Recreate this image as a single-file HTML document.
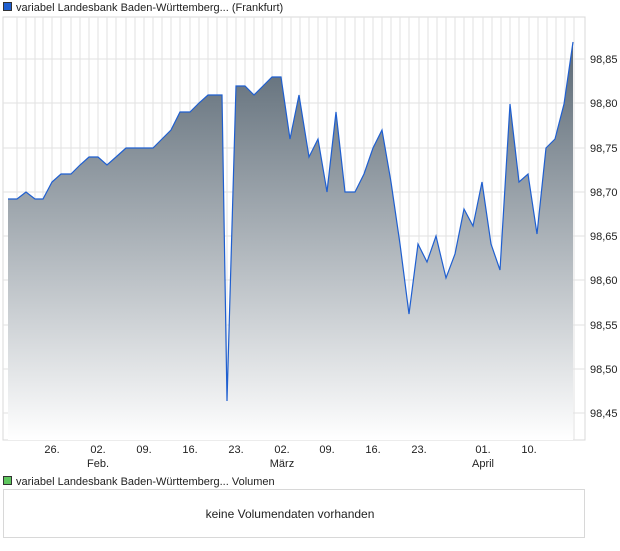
<!DOCTYPE html>
<html><head><meta charset="utf-8"><style>
body{margin:0;background:#fff;font-family:"Liberation Sans",sans-serif;}
</style></head><body>
<svg width="620" height="546" xmlns="http://www.w3.org/2000/svg" font-family="Liberation Sans, sans-serif" font-size="11">
<defs><linearGradient id="g" x1="0" y1="0" x2="0" y2="1"><stop offset="0" stop-color="#5a6874"/><stop offset="1" stop-color="#ffffff"/></linearGradient></defs>
<rect x="3" y="17" width="582" height="423" fill="#fff" stroke="#d8d8d8"/>
<g stroke="#e2e2e2" stroke-width="1">
<path d="M17 17V440M26 17V440M35 17V440M43 17V440M52 17V440M61 17V440M71 17V440M80 17V440M89 17V440M98 17V440M107 17V440M116 17V440M126 17V440M135 17V440M144 17V440M153 17V440M162 17V440M171 17V440M180 17V440M190 17V440M199 17V440M208 17V440M217 17V440M227 17V440M236 17V440M245 17V440M254 17V440M263 17V440M272 17V440M282 17V440M291 17V440M300 17V440M309 17V440M318 17V440M327 17V440M336 17V440M345 17V440M355 17V440M364 17V440M373 17V440M382 17V440M391 17V440M400 17V440M409 17V440M419 17V440M428 17V440M437 17V440M446 17V440M455 17V440M464 17V440M473 17V440M483 17V440M492 17V440M501 17V440M510 17V440M519 17V440M529 17V440M538 17V440M547 17V440M556 17V440M565 17V440M574 17V440"/>
<path d="M3 59H585M3 103H585M3 148H585M3 192H585M3 236H585M3 280H585M3 325H585M3 369H585M3 413H585"/>
</g>
<path d="M8 199L17 199L26 192L35 199L43 199L52 182L61 174L71 174L80 165L89 157L98 157L107 165L116 157L126 148L135 148L144 148L153 148L162 139L171 130L180 112L190 112L199 103L208 95L217 95L222 95L227 401L236 86L245 86L254 95L263 86L272 77L281 77L290 139L299 95L309 157L318 139L327 192L336 112L345 192L355 192L364 174L373 148L382 130L391 182L400 244L409 314L418 244L427 262L436 236L446 278L455 254L464 209L473 226L482 182L491 244L500 270L510 104L519 182L528 174L537 234L546 148L555 139L564 104L573 42L573 440L8 440Z" fill="url(#g)"/>
<path d="M8 199L17 199L26 192L35 199L43 199L52 182L61 174L71 174L80 165L89 157L98 157L107 165L116 157L126 148L135 148L144 148L153 148L162 139L171 130L180 112L190 112L199 103L208 95L217 95L222 95L227 401L236 86L245 86L254 95L263 86L272 77L281 77L290 139L299 95L309 157L318 139L327 192L336 112L345 192L355 192L364 174L373 148L382 130L391 182L400 244L409 314L418 244L427 262L436 236L446 278L455 254L464 209L473 226L482 182L491 244L500 270L510 104L519 182L528 174L537 234L546 148L555 139L564 104L573 42" fill="none" stroke="#1f5fd0" stroke-width="1.2"/>
<g fill="#222" font-size="11">
<text x="590" y="63">98,85</text><text x="590" y="107">98,80</text><text x="590" y="152">98,75</text><text x="590" y="196">98,70</text><text x="590" y="240">98,65</text><text x="590" y="284">98,60</text><text x="590" y="329">98,55</text><text x="590" y="373">98,50</text><text x="590" y="417">98,45</text>
</g>
<g fill="#222" text-anchor="middle">
<text x="52" y="453">26.</text><text x="98" y="453">02.</text><text x="144" y="453">09.</text><text x="190" y="453">16.</text><text x="236" y="453">23.</text><text x="282" y="453">02.</text><text x="327" y="453">09.</text><text x="373" y="453">16.</text><text x="419" y="453">23.</text><text x="483" y="453">01.</text><text x="529" y="453">10.</text>
<text x="98" y="467">Feb.</text><text x="282" y="467">März</text><text x="483" y="467">April</text>
</g>
<rect x="3.5" y="2.5" width="8" height="8" fill="#1f5fd0" stroke="#333"/>
<text x="16" y="11" fill="#222">variabel Landesbank Baden-Württemberg... (Frankfurt)</text>
<rect x="3.5" y="476.5" width="8" height="8" fill="#5ec65e" stroke="#333"/>
<text x="16" y="485" fill="#222">variabel Landesbank Baden-Württemberg... Volumen</text>
<rect x="3.5" y="489.5" width="581" height="48" fill="#fff" stroke="#d8d8d8"/>
<text x="290" y="518" text-anchor="middle" font-size="12" fill="#222">keine Volumendaten vorhanden</text>
</svg>
</body></html>
